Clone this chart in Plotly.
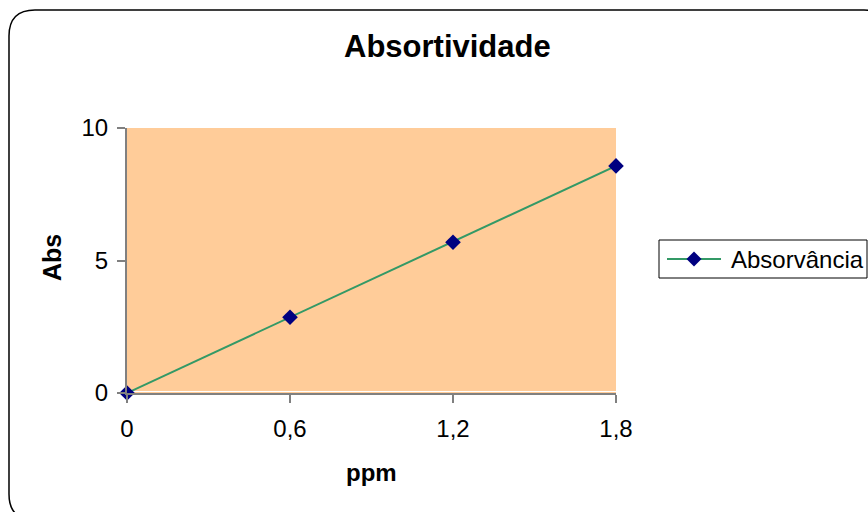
import plotly.graph_objects as go

# Calibration data: concentration (ppm) vs absorbance
ppm = [0.0, 0.6, 1.2, 1.8]
absorvancia = [0.0, 2.86, 5.69, 8.57]

x_tickvals = [0.0, 0.6, 1.2, 1.8]
x_ticktext = ["0", "0,6", "1,2", "1,8"]
y_tickvals = [0, 5, 10]
y_ticktext = ["0", "5", "10"]

series_name = "Absorvância"
chart_title = "Absortividade"
x_title = "ppm"
y_title = "Abs"

LINE_COLOR = "#339966"
MARKER_COLOR = "#000080"

W, H = 868, 512
L, R, T, B = 127, 252, 128, 119
PW, PH = W - L - R, H - T - B

FONT = "Liberation Sans, Arial, sans-serif"


def px_to_paper(px, py):
    return (px - L) / PW, (H - B - py) / PH


def path_from_px(cmds):
    out = []
    for c in cmds:
        segs = []
        for i in range(1, len(c), 2):
            a, b = px_to_paper(c[i], c[i + 1])
            segs.append(f"{a:.5f},{b:.5f}")
        out.append(c[0] + " ".join(segs))
    return " ".join(out)


def rounded_rect_path(x0, y0, x1, y1, r):
    return path_from_px([
        ("M", x0 + r, y0), ("L", x1 - r, y0), ("Q", x1, y0, x1, y0 + r),
        ("L", x1, y1 - r), ("Q", x1, y1, x1 - r, y1), ("L", x0 + r, y1),
        ("Q", x0, y1, x0, y1 - r), ("L", x0, y0 + r), ("Q", x0, y0, x0 + r, y0),
    ]) + " Z"


def diamond_path(cx, cy, h):
    return path_from_px([
        ("M", cx, cy - h), ("L", cx + h, cy), ("L", cx, cy + h), ("L", cx - h, cy),
    ]) + " Z"


fig = go.Figure()
fig.add_trace(go.Scatter(
    x=ppm, y=absorvancia, name=series_name, mode="lines+markers",
    line=dict(color=LINE_COLOR, width=2),
    marker=dict(symbol="diamond", size=12, color=MARKER_COLOR),
    cliponaxis=False, showlegend=False,
))

# legend box drawn by hand (line + diamond key + label)
lg_x0, lg_y0, lg_x1, lg_y1 = 659, 240, 867, 278
lg_cy = (lg_y0 + lg_y1) / 2
shapes = [
    dict(type="line", xref="paper", yref="paper",
         x0=0, x1=1, y0=px_to_paper(0, 391.5)[1], y1=px_to_paper(0, 391.5)[1],
         line=dict(color="white", width=1), layer="below"),
    dict(type="rect", xref="paper", yref="paper",
         x0=px_to_paper(lg_x0, 0)[0], x1=px_to_paper(lg_x1, 0)[0],
         y0=px_to_paper(0, lg_y1)[1], y1=px_to_paper(0, lg_y0)[1],
         line=dict(color="black", width=1), fillcolor="white", layer="above"),
    dict(type="line", xref="paper", yref="paper",
         x0=px_to_paper(667, 0)[0], x1=px_to_paper(721, 0)[0],
         y0=px_to_paper(0, lg_cy)[1], y1=px_to_paper(0, lg_cy)[1],
         line=dict(color=LINE_COLOR, width=2), layer="above"),
    dict(type="path", xref="paper", yref="paper",
         path=diamond_path(694, lg_cy, 7.5),
         fillcolor=MARKER_COLOR, line=dict(width=0), layer="above"),
    dict(type="path", xref="paper", yref="paper",
         path=rounded_rect_path(9, 10, 890, 520, 26),
         line=dict(color="black", width=1.5), layer="above"),
]

fig.update_layout(
    width=W, height=H,
    margin=dict(l=L, r=R, t=T, b=B),
    paper_bgcolor="white",
    plot_bgcolor="#FFCC99",
    font=dict(family=FONT, size=24, color="black"),
    showlegend=False,
    shapes=shapes,
    annotations=[
        dict(text=f"<b>{chart_title}</b>", xref="paper", yref="paper",
             x=px_to_paper(447, 46)[0], y=px_to_paper(447, 46)[1],
             showarrow=False, font=dict(size=31), xanchor="center", yanchor="middle"),
        dict(text=f"<b>{x_title}</b>", xref="paper", yref="paper",
             x=px_to_paper(371, 472)[0], y=px_to_paper(371, 472)[1],
             showarrow=False, font=dict(size=24), xanchor="center", yanchor="middle"),
        dict(text=f"<b>{y_title}</b>", xref="paper", yref="paper",
             x=px_to_paper(52, 258)[0], y=px_to_paper(52, 258)[1],
             showarrow=False, font=dict(size=25), textangle=-90,
             xanchor="center", yanchor="middle"),
        dict(text=series_name, xref="paper", yref="paper",
             x=px_to_paper(729, lg_cy)[0], y=px_to_paper(729, lg_cy)[1],
             showarrow=False, font=dict(size=24), xanchor="left", yanchor="middle"),
    ],
)

fig.update_xaxes(
    range=[0, 1.8], tickvals=x_tickvals, ticktext=x_ticktext,
    showgrid=False, zeroline=False, showline=True, linecolor="#808080", linewidth=2,
    ticks="outside", ticklen=8, tickcolor="#808080", tickwidth=2,
    ticklabelstandoff=5,
)
fig.update_yaxes(
    range=[0, 10], tickvals=y_tickvals, ticktext=y_ticktext,
    showgrid=False, zeroline=False, showline=True, linecolor="#808080", linewidth=2,
    ticks="outside", ticklen=8, tickcolor="#808080", tickwidth=2,
    ticklabelstandoff=4,
)

fig.write_html("out.html")
